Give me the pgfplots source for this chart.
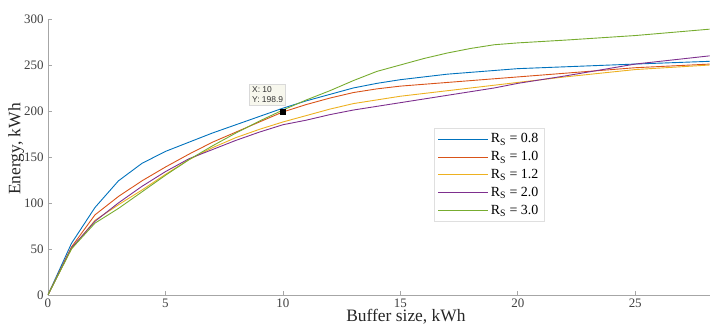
\documentclass[border=0pt]{standalone}
\usepackage{fontspec}
\setmainfont{Liberation Serif}
\newfontfamily\dtfont{Liberation Sans}
\usepackage{pgfplots}
\pgfplotsset{compat=1.18}
\definecolor{c1}{rgb}{0,0.447,0.741}
\definecolor{c2}{rgb}{0.85,0.325,0.098}
\definecolor{c3}{rgb}{0.929,0.694,0.125}
\definecolor{c4}{rgb}{0.494,0.184,0.556}
\definecolor{c5}{rgb}{0.466,0.674,0.188}
\definecolor{tipfill}{rgb}{0.97,0.97,0.93}
\begin{document}
\begin{tikzpicture}
\begin{axis}[
  scale only axis, width=662bp, height=276bp,
  xmin=0, xmax=28.17, ymin=0, ymax=300,
  axis x line*=bottom, axis y line*=left,
  axis line style={-, gray!70, line width=0.6bp},
  tick style={gray!70, line width=0.6bp},
  tick align=inside,
  major tick length=4bp,
  xtick={0,5,...,25}, ytick={0,50,...,300},
  tick label style={font=\fontsize{13}{13}\selectfont, text=black!75, inner sep=1bp},
  xticklabel style={yshift=-3.3bp},
  yticklabel style={xshift=-3.3bp},
  /pgf/number format/assume math mode=true,
  xlabel={Buffer size, kWh}, ylabel={Energy, kWh},
  label style={font=\fontsize{17.5}{17.5}\selectfont, text=black!85},
  xlabel style={at={(axis description cs:0.541,-0.097)}, anchor=base, inner sep=0pt},
  ylabel style={at={(axis description cs:-0.048,0.529)}, anchor=center},
  legend style={at={(axis description cs:0.583,0.605)}, anchor=north west,
    draw=gray!25, fill=white, font=\fontsize{14}{15}\selectfont,
    inner xsep=4bp, inner ysep=3.5bp, row sep=3.2bp},
  legend cell align=left,
  legend image code/.code={\path (-20bp,0bp) -- (0bp,0bp);\draw[#1] (0bp,0bp) -- (30bp,0bp);},
  every axis plot/.append style={line width=0.9bp},
  clip=true,
]
\addplot[c1] coordinates {(0,0)(1,56)(2,95)(3,124)(4,143)(5,156)(6,166)(7,176)(8,185)(9,194)(10,203)(11,211)(12,218)(13,225)(14,230)(15,234)(16,237)(17,240)(18,242)(19,244)(20,246)(22,248)(25,251)(28.2,254)};
\addlegendentry{R\textsubscript{S} = 0.8}
\addplot[c2] coordinates {(0,0)(1,52)(2,87)(3,107)(4,124)(5,139)(6,153)(7,166)(8,177)(9,188)(10,198.9)(11,207)(12,214)(13,220)(14,224)(15,227)(16,229)(17,231)(18,233)(19,235)(20,237)(22,241)(25,247)(28.2,251)};
\addlegendentry{R\textsubscript{S} = 1.0}
\addplot[c3] coordinates {(0,0)(1,50)(2,81)(3,98)(4,114)(5,131)(6,147)(7,160)(8,171)(9,180)(10,188)(11,195)(12,202)(13,208)(14,212)(15,216)(16,219)(17,222)(18,225)(19,228)(20,231)(22,237)(25,245)(28.2,250)};
\addlegendentry{R\textsubscript{S} = 1.2}
\addplot[c4] coordinates {(0,0)(1,51)(2,80)(3,100)(4,118)(5,134)(6,148)(7,158)(8,168)(9,177)(10,185)(11,190)(12,196)(13,201)(14,205)(15,209)(16,213)(17,217)(18,221)(19,225)(20,230)(22,238)(25,251)(28.2,260)};
\addlegendentry{R\textsubscript{S} = 2.0}
\addplot[c5] coordinates {(0,0)(1,50)(2,78)(3,94)(4,112)(5,130)(6,147)(7,162)(8,176)(9,189)(10,201)(11,212)(12,222)(13,233)(14,243)(15,250)(16,257)(17,263)(18,268)(19,272)(20,274)(22,277)(25,282)(28.2,289)};
\addlegendentry{R\textsubscript{S} = 3.0}
\addplot[only marks, mark=square*, mark size=2.6bp, black, forget plot] coordinates {(10,198.9)};
\node[anchor=south east, xshift=3bp, yshift=7bp, fill=tipfill, draw=gray!30, line width=0.4bp,
  align=left, inner sep=2.5bp, font=\dtfont\fontsize{8.5}{10}\selectfont, text=black!80]
  at (axis cs:10,198.9) {X: 10\\Y: 198.9};
\end{axis}
\path ([shift={(-48bp,-32bp)}]current axis.south west) rectangle ([shift={(0bp,19bp)}]current axis.north east);
\end{tikzpicture}
\end{document}
